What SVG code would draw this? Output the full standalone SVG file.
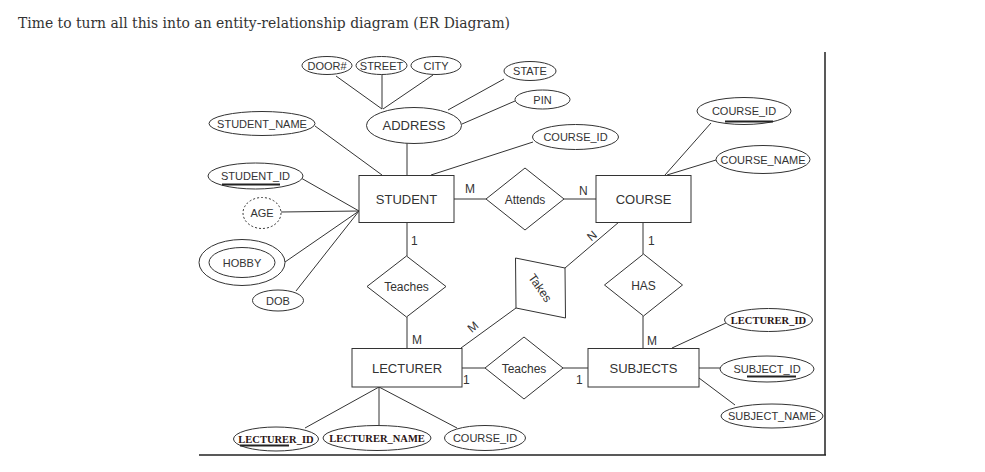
<svg xmlns="http://www.w3.org/2000/svg" width="985" height="472" viewBox="0 0 985 472">
<style>
.bg{fill:#fff}
.sh{fill:#fff;stroke:#333;stroke-width:1}
.dash{fill:#fff;stroke:#333;stroke-width:1;stroke-dasharray:2 2}
.ln{stroke:#333;stroke-width:1;fill:none}
.ul{stroke:#222;stroke-width:2}
.t{font-family:"Liberation Sans",Arial,sans-serif;font-size:11px;fill:#333;text-anchor:middle}
.e{font-family:"Liberation Sans",Arial,sans-serif;font-size:13px;fill:#333;text-anchor:middle}
.r{font-family:"Liberation Sans",Arial,sans-serif;font-size:12px;fill:#333;text-anchor:middle}
.c{font-family:"Liberation Sans",Arial,sans-serif;font-size:12px;fill:#333}
.b{font-family:"Liberation Serif","Times New Roman",serif;font-size:10.5px;font-weight:bold;fill:#2a1414;text-anchor:middle}
.frame{stroke:#222;stroke-width:1.5;fill:none}
</style>
<rect class="bg" x="0" y="0" width="985" height="472"/>
<text x="18" y="28" font-family="DejaVu Serif,'Liberation Serif',serif" font-size="14.5" fill="#333" textLength="492" lengthAdjust="spacingAndGlyphs">Time to turn all this into an entity-relationship diagram (ER Diagram)</text>
<g id="frame">
<line class="frame" x1="825" y1="52" x2="825" y2="455"/>
<line class="frame" x1="199" y1="455" x2="826" y2="455"/>
</g>
<g id="connectors">
<line class="ln" x1="336" y1="76" x2="382" y2="109"/>
<line class="ln" x1="382" y1="74" x2="382" y2="109"/>
<line class="ln" x1="433" y1="75" x2="383" y2="109"/>
<line class="ln" x1="504" y1="79" x2="448" y2="110"/>
<line class="ln" x1="515" y1="101" x2="462" y2="124"/>
<line class="ln" x1="407" y1="143" x2="407" y2="175"/>
<line class="ln" x1="315" y1="126" x2="382" y2="175"/>
<line class="ln" x1="533" y1="142" x2="431" y2="175"/>
<line class="ln" x1="301" y1="178" x2="359" y2="211"/>
<line class="ln" x1="281" y1="212" x2="359" y2="211"/>
<line class="ln" x1="285" y1="262" x2="359" y2="211"/>
<line class="ln" x1="296" y1="291" x2="359" y2="211"/>
<line class="ln" x1="454" y1="199" x2="486" y2="199"/>
<line class="ln" x1="564" y1="199" x2="596" y2="199"/>
<line class="ln" x1="711" y1="123" x2="665" y2="175"/>
<line class="ln" x1="716" y1="160" x2="667" y2="175"/>
<line class="ln" x1="407" y1="222" x2="407" y2="256"/>
<line class="ln" x1="407" y1="317" x2="407" y2="348"/>
<line class="ln" x1="643" y1="222" x2="643" y2="254"/>
<line class="ln" x1="643" y1="316" x2="643" y2="348"/>
<line class="ln" x1="619" y1="222" x2="565" y2="268"/>
<line class="ln" x1="516" y1="308" x2="461" y2="348"/>
<line class="ln" x1="462" y1="368" x2="485" y2="368"/>
<line class="ln" x1="563" y1="368" x2="588" y2="368"/>
<line class="ln" x1="726" y1="323" x2="672" y2="348"/>
<line class="ln" x1="699" y1="368" x2="720" y2="368"/>
<line class="ln" x1="699" y1="378" x2="735" y2="405"/>
<line class="ln" x1="379" y1="387" x2="305" y2="428"/>
<line class="ln" x1="379" y1="387" x2="379" y2="425"/>
<line class="ln" x1="379" y1="387" x2="457" y2="428"/>
<text class="c" x="465" y="193">M</text>
<text class="c" x="579" y="195">N</text>
<text class="c" x="411" y="245">1</text>
<text class="c" x="412" y="344">M</text>
<text class="c" x="648" y="245">1</text>
<text class="c" x="647" y="345">M</text>
<text class="c" x="463" y="384">1</text>
<text class="c" x="576" y="384">1</text>
<text class="c" transform="translate(592,236) rotate(-40)" text-anchor="middle" dominant-baseline="central">N</text>
<text class="c" transform="translate(473,327) rotate(-40)" text-anchor="middle" dominant-baseline="central">M</text>
</g>
<g id="door"><ellipse class="sh" cx="327" cy="65.5" rx="25" ry="9"/><text class="t" x="327" y="69.5">DOOR#</text></g>
<g id="street"><ellipse class="sh" cx="381.5" cy="65.5" rx="25.5" ry="9"/><text class="t" x="381.5" y="69.5">STREET</text></g>
<g id="city"><ellipse class="sh" cx="436" cy="65.5" rx="25" ry="9"/><text class="t" x="436" y="69.5">CITY</text></g>
<g id="state"><ellipse class="sh" cx="530" cy="71" rx="26" ry="9.5"/><text class="t" x="530" y="75">STATE</text></g>
<g id="pin"><ellipse class="sh" cx="542.5" cy="99.5" rx="27.5" ry="9.5"/><text class="t" x="542.5" y="103.5">PIN</text></g>
<g id="address"><ellipse class="sh" cx="414" cy="125.5" rx="47.5" ry="18"/><text class="e" x="414" y="130">ADDRESS</text></g>
<g id="student_name"><ellipse class="sh" cx="262" cy="123.5" rx="53" ry="12"/><text class="t" x="262" y="127.5">STUDENT_NAME</text></g>
<g id="course_id_s"><ellipse class="sh" cx="575.5" cy="137" rx="43" ry="12.5"/><text class="t" x="575.5" y="141">COURSE_ID</text></g>
<g id="student_id"><ellipse class="sh" cx="255.5" cy="176" rx="47.5" ry="13"/><text class="t" x="255.5" y="180">STUDENT_ID</text><line class="ul" x1="222" y1="184.5" x2="280" y2="184.5"/></g>
<g id="age"><ellipse class="dash" cx="262" cy="213" rx="19" ry="15.5"/><text class="t" x="262" y="217">AGE</text></g>
<g id="hobby"><ellipse class="sh" cx="242" cy="262.5" rx="43" ry="23"/><ellipse class="sh" cx="242" cy="262.5" rx="33" ry="15"/><text class="t" x="242" y="266.5">HOBBY</text></g>
<g id="dob"><ellipse class="sh" cx="278" cy="300.5" rx="25.5" ry="10.5"/><text class="t" x="278" y="304.5">DOB</text></g>
<g id="student"><rect class="sh" x="359" y="175.5" width="95" height="47"/><text class="e" x="406.5" y="204">STUDENT</text></g>
<g id="attends"><polygon class="sh" points="525,168 564,199 525,230 486,199"/><text class="r" x="525" y="203.5">Attends</text></g>
<g id="course"><rect class="sh" x="596" y="175.5" width="95" height="47"/><text class="e" x="643.5" y="204">COURSE</text></g>
<g id="course_id_c"><ellipse class="sh" cx="744" cy="111" rx="47" ry="13.5"/><text class="t" x="744" y="115">COURSE_ID</text><line class="ul" x1="725" y1="121.5" x2="773" y2="121.5"/></g>
<g id="course_name"><ellipse class="sh" cx="763" cy="159.5" rx="47" ry="14"/><text class="t" x="763" y="163.5">COURSE_NAME</text></g>
<g id="teaches1"><polygon class="sh" points="406.5,256 446,286.5 406.5,317 367,286.5"/><text class="r" x="406.5" y="291">Teaches</text></g>
<g id="takes"><polygon class="sh" points="515.5,258 565,268 565.5,318 516,308"/><text class="r" transform="translate(540,288) rotate(55)" dominant-baseline="central">Takes</text></g>
<g id="has"><polygon class="sh" points="643.5,254 682.5,285 643.5,316 604.5,285"/><text class="r" x="643.5" y="289.5">HAS</text></g>
<g id="lecturer"><rect class="sh" x="352" y="348.5" width="110" height="38.5"/><text class="e" x="407" y="372.5">LECTURER</text></g>
<g id="teaches2"><polygon class="sh" points="524,337 563,368 524,399 485,368"/><text class="r" x="524" y="372.5">Teaches</text></g>
<g id="subjects"><rect class="sh" x="588" y="348.5" width="111" height="38.5"/><text class="e" x="643.5" y="372.5">SUBJECTS</text></g>
<g id="lecturer_id_s"><ellipse class="sh" cx="768.5" cy="320" rx="44" ry="11.5"/><text class="b" x="768.5" y="323.5">LECTURER_ID</text></g>
<g id="subject_id"><ellipse class="sh" cx="767" cy="369" rx="47" ry="13"/><text class="t" x="767" y="373">SUBJECT_ID</text><line class="ul" x1="747" y1="376.5" x2="796" y2="376.5"/></g>
<g id="subject_name"><ellipse class="sh" cx="772" cy="416" rx="51" ry="12"/><text class="t" x="772" y="420">SUBJECT_NAME</text></g>
<g id="lecturer_id"><ellipse class="sh" cx="276" cy="439" rx="42.5" ry="12"/><text class="b" x="276" y="442.5">LECTURER_ID</text><line class="ul" x1="240" y1="445.5" x2="289" y2="445.5"/></g>
<g id="lecturer_name"><ellipse class="sh" cx="377" cy="438" rx="54" ry="12.5"/><text class="b" x="377" y="441.5">LECTURER_NAME</text></g>
<g id="course_id_l"><ellipse class="sh" cx="485" cy="438" rx="40.5" ry="12.5"/><text class="t" x="485" y="442">COURSE_ID</text></g>
</svg>
